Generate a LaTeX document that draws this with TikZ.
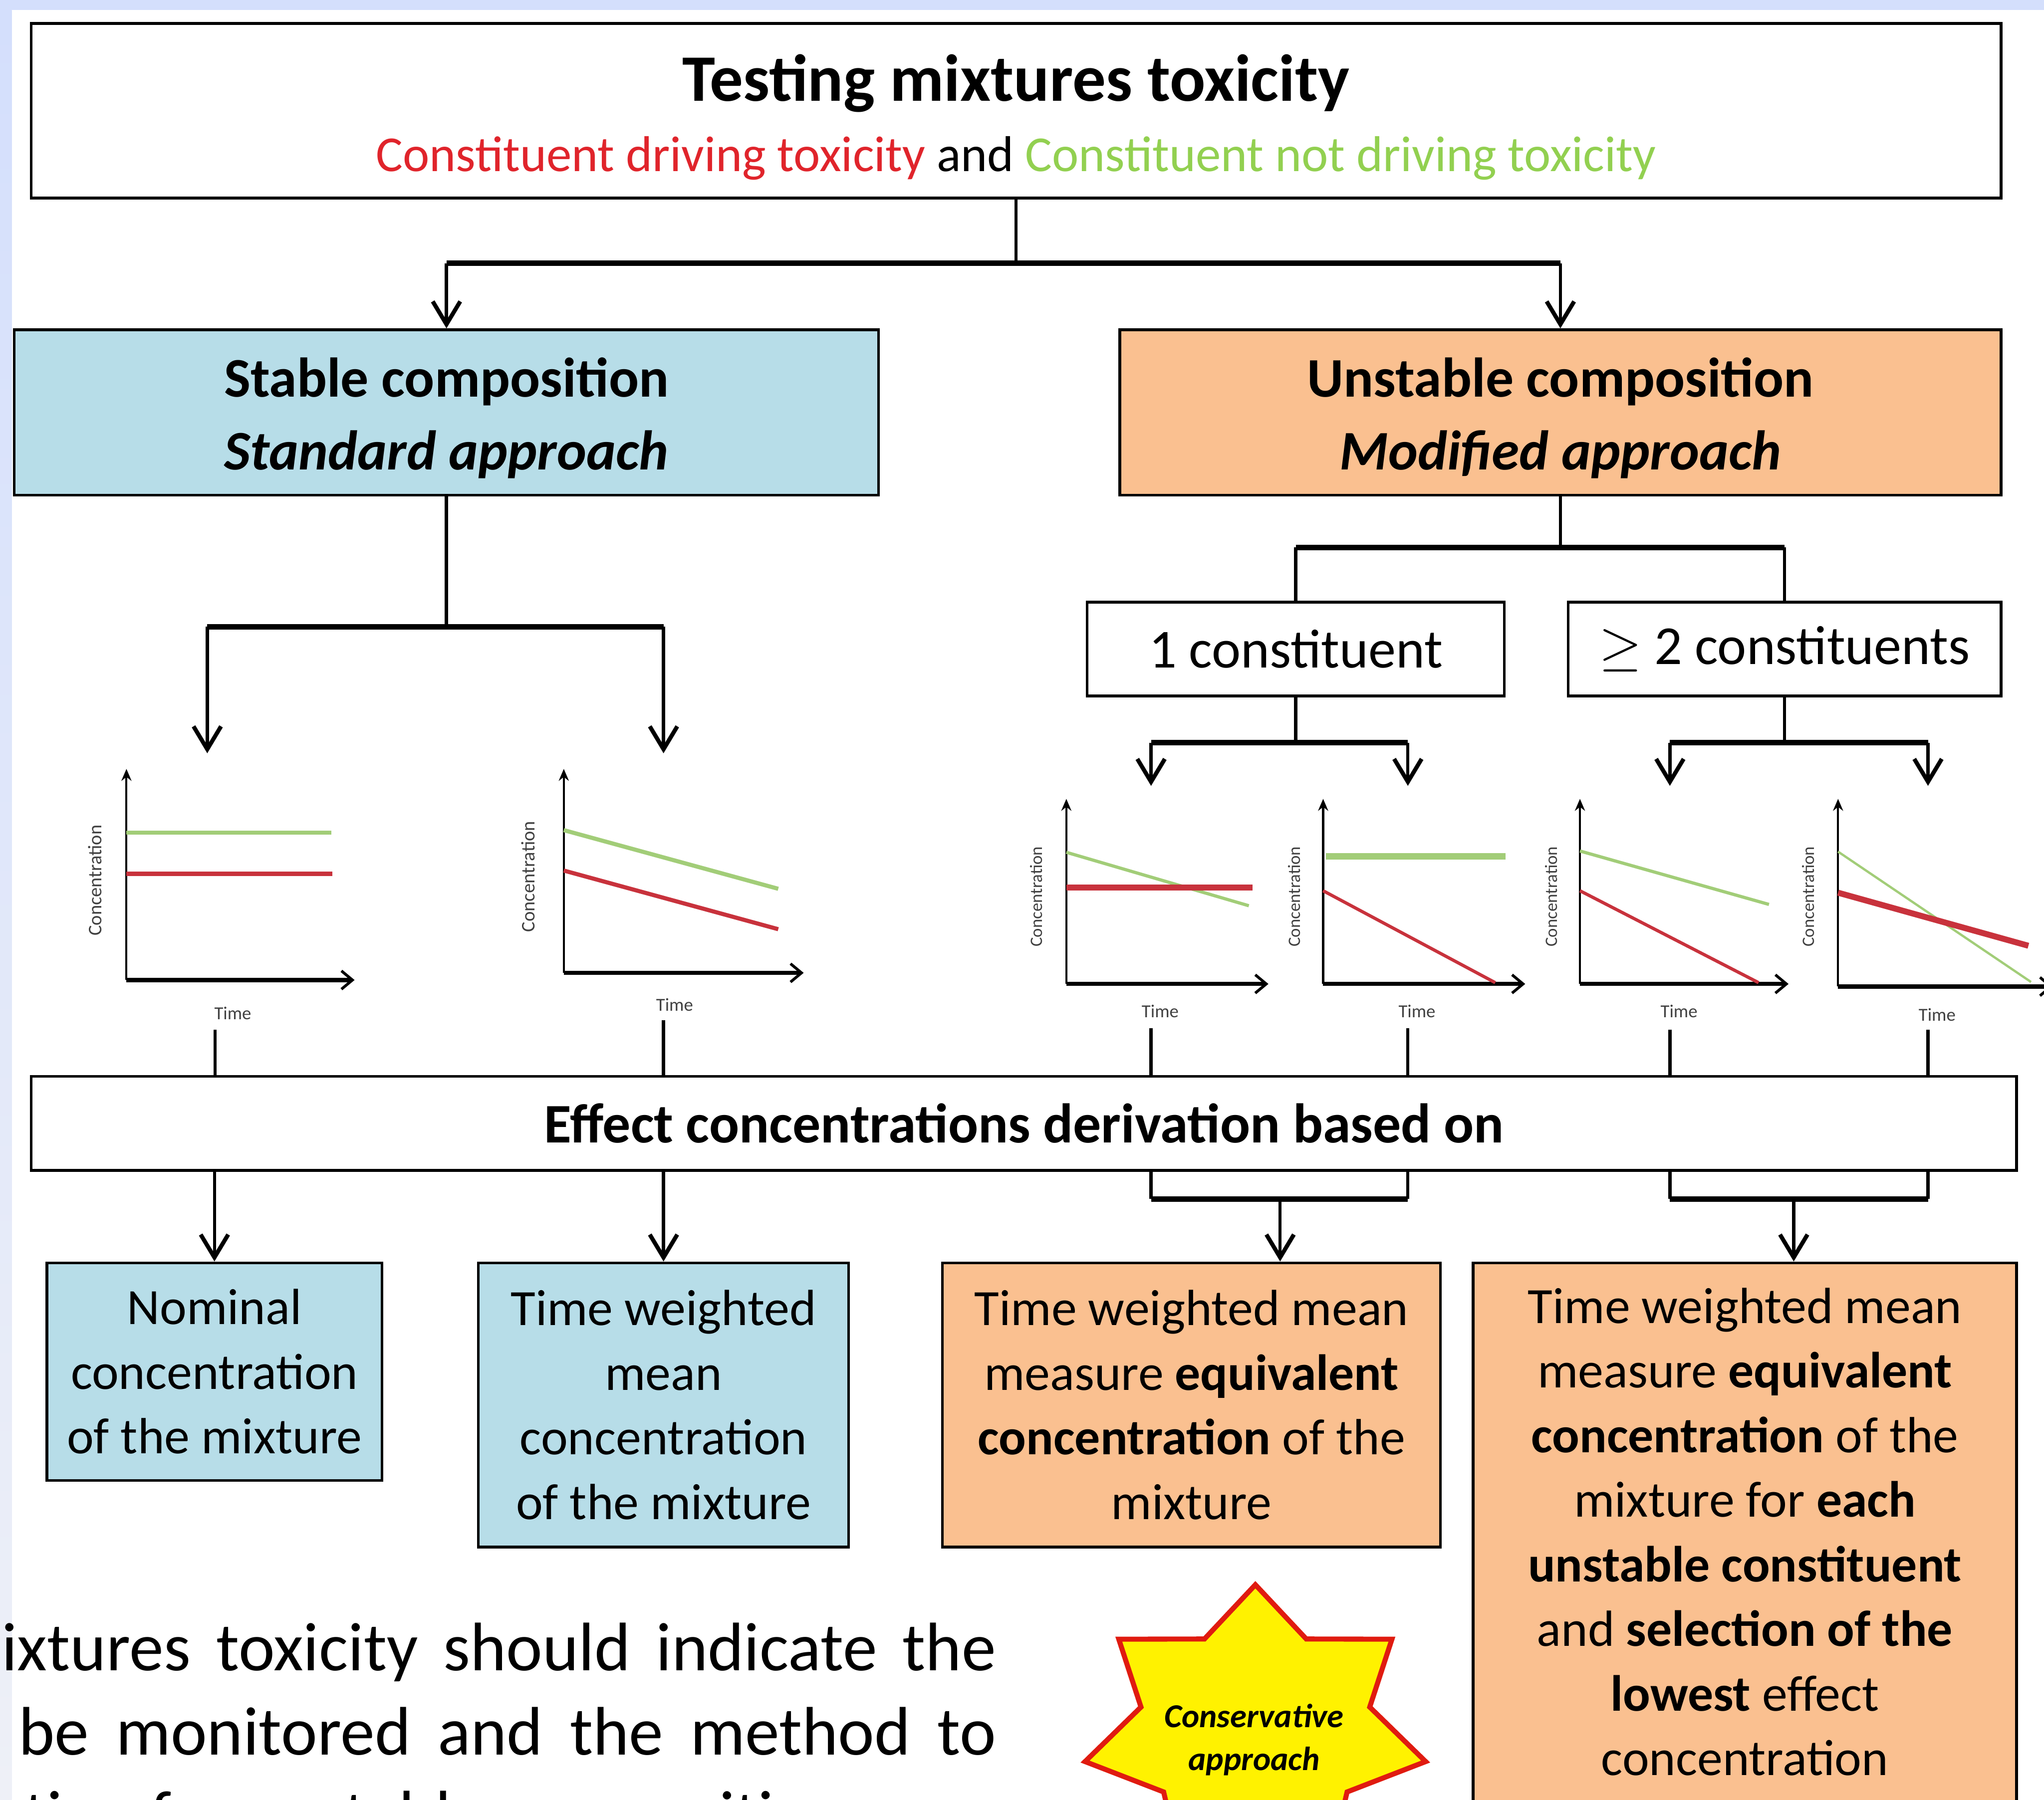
\documentclass[tikz,border=0pt]{standalone}
\usepackage{fontspec}
\setmainfont{Carlito}
\usetikzlibrary{arrows.meta}

\definecolor{stableblue}{HTML}{B7DDE8}
\definecolor{unstableorange}{HTML}{FAC090}
\definecolor{toxred}{HTML}{E0242B}
\definecolor{toxgreen}{HTML}{92D050}
\definecolor{plotred}{HTML}{C8323C}
\definecolor{plotgreen}{HTML}{A2CD78}
\definecolor{slideband}{HTML}{D4DFFC}
\definecolor{slidegrey}{HTML}{EEF0F7}
\definecolor{starred}{HTML}{E01B10}

\begin{document}
\begin{tikzpicture}[
    >={Straight Barb[length=5pt,width=6pt,line width=0.9pt]},
    box/.style={draw=black, line width=0.6pt, inner sep=0pt, align=center},
    link/.style={line width=0.7pt},
    bus/.style={line width=1.2pt},
    yaxis/.style={line width=0.45pt, -{Stealth[length=2.6pt,width=2.2pt]}},
    xaxis/.style={line width=0.9pt, -{Straight Barb[length=2.4pt,width=4pt,line width=0.6pt]}},
    greenline/.style={plotgreen, line width=0.9pt},
    redline/.style={plotred, line width=0.9pt},
    conc/.style={rotate=90, inner sep=0pt, text=black!75, font=\fontsize{4.2}{5}\selectfont},
    timelbl/.style={inner sep=0pt, text=black!75, font=\fontsize{4}{5}\selectfont},
    bottomtext/.style={font=\fontsize{11.1}{14.1}\selectfont},
    slidetext/.style={inner sep=0pt, anchor=base east, font=\fontsize{15}{18}\selectfont}
]

    % Page
    \useasboundingbox (0,0) rectangle (15.68,-13.81);
    \clip (0,0) rectangle (15.68,-13.81);
    \fill[white] (0,0) rectangle (15.68,-13.81);
    \fill[slideband] (0,0) rectangle (15.68,-0.078);
    \shade[top color=slideband, bottom color=slidegrey] (0,-0.078) rectangle (0.09,-13.81);

    % Slide text behind the chart
    \node[slidetext] (para1) at (7.65,-12.82) {\makebox[7.63cm][s]{ixtures toxicity should indicate the}};
    \node[slidetext] (para2) at (7.65,-13.465) {\makebox[7.50cm][s]{be monitored and the method to}};
    \node[slidetext, anchor=base west] (para3) at (0.18,-14.11) {tion for unstable composition};

    % Title
    \node[box, minimum width=15.11cm, minimum height=1.34cm,
          font=\fontsize{11}{15.3}\selectfont] (title) at (7.795,-0.85)
        {\rule{0pt}{13pt}{\fontsize{14.5}{15.3}\selectfont\bfseries Testing mixtures toxicity}\\
         \textcolor{toxred}{Constituent driving toxicity} and \textcolor{toxgreen}{Constituent not driving toxicity}};

    % Composition
    \node[box, fill=stableblue, minimum width=6.63cm, minimum height=1.27cm,
          font=\bfseries\fontsize{12.2}{15.9}\selectfont] (stable) at (3.425,-3.165)
        {\rule{0pt}{11pt}Stable composition\\\textit{Standard approach}};
    \node[box, fill=unstableorange, minimum width=6.76cm, minimum height=1.27cm,
          font=\bfseries\fontsize{12.2}{15.9}\selectfont] (unstable) at (11.97,-3.165)
        {\rule{0pt}{11pt}Unstable composition\\\textit{Modified approach}};

    \coordinate (split) at (7.795,-2.02);
    \draw[link] (title.south) -- (split);
    \draw[bus] (stable.north |- split) -- (unstable.north |- split);
    \draw[link,->] (stable.north |- split) -- (stable.north);
    \draw[link,->] (unstable.north |- split) -- (unstable.north);

    % Stable branches
    \coordinate (sfork) at (3.425,-4.81);
    \coordinate (g1in) at (1.59,-5.78);
    \coordinate (g2in) at (5.09,-5.78);
    \draw[link] (stable.south) -- (sfork);
    \draw[bus] (g1in |- sfork) -- (g2in |- sfork);
    \draw[link,->] (g1in |- sfork) -- (g1in);
    \draw[link,->] (g2in |- sfork) -- (g2in);

    % Unstable branches
    \node[box, minimum width=3.20cm, minimum height=0.72cm,
          font=\fontsize{12}{14}\selectfont] (one) at (9.94,-4.98) {1 constituent};
    \node[box, minimum width=3.32cm, minimum height=0.72cm,
          font=\fontsize{12}{14}\selectfont] (two) at (13.69,-4.98) {$\geq$ 2 constituents};
    \coordinate (ufork) at (11.97,-4.20);
    \draw[link] (unstable.south) -- (ufork);
    \draw[bus] (one.north |- ufork) -- (two.north |- ufork);
    \draw[link] (one.north |- ufork) -- (one.north);
    \draw[link] (two.north |- ufork) -- (two.north);

    \coordinate (ofork) at (9.94,-5.70);
    \coordinate (tfork) at (13.69,-5.70);
    \coordinate (g3in) at (8.83,-6.03);
    \coordinate (g4in) at (10.80,-6.03);
    \coordinate (g5in) at (12.81,-6.03);
    \coordinate (g6in) at (14.79,-6.03);
    \draw[link] (one.south) -- (ofork);
    \draw[link] (two.south) -- (tfork);
    \draw[bus] (g3in |- ofork) -- (g4in |- ofork);
    \draw[bus] (g5in |- tfork) -- (g6in |- tfork);
    \draw[link,->] (g3in |- ofork) -- (g3in);
    \draw[link,->] (g4in |- ofork) -- (g4in);
    \draw[link,->] (g5in |- tfork) -- (g5in);
    \draw[link,->] (g6in |- tfork) -- (g6in);

    % Graph 1
    \draw[yaxis] (0.97,-7.52) -- (0.97,-5.90);
    \draw[xaxis] (0.97,-7.52) -- (2.72,-7.52);
    \draw[greenline] (0.97,-6.39) -- (2.54,-6.39);
    \draw[redline] (0.97,-6.705) -- (2.55,-6.705);
    \node[conc] (c1) at (0.73,-6.755) {Concentration};
    \node[timelbl] (t1) at (1.786,-7.775) {Time};

    % Graph 2
    \draw[yaxis] (4.325,-7.465) -- (4.325,-5.90);
    \draw[xaxis] (4.325,-7.465) -- (6.165,-7.465);
    \draw[greenline] (4.325,-6.37) -- (5.97,-6.82);
    \draw[redline] (4.325,-6.68) -- (5.97,-7.13);
    \node[conc] (c2) at (4.05,-6.726) {Concentration};
    \node[timelbl] (t2) at (5.175,-7.708) {Time};

    % Graph 3
    \draw[yaxis] (8.18,-7.55) -- (8.18,-6.13);
    \draw[xaxis] (8.18,-7.55) -- (9.73,-7.55);
    \draw[greenline, line width=0.7pt] (8.18,-6.54) -- (9.58,-6.95);
    \draw[redline, line width=1.4pt] (8.18,-6.81) -- (9.61,-6.81);
    \node[conc, font=\fontsize{3.8}{4.5}\selectfont] (c3) at (7.95,-6.88) {Concentration};
    \node[timelbl] (t3) at (8.90,-7.76) {Time};

    % Graph 4
    \draw[yaxis] (10.15,-7.55) -- (10.15,-6.13);
    \draw[xaxis] (10.15,-7.55) -- (11.70,-7.55);
    \draw[greenline, line width=1.4pt] (10.17,-6.57) -- (11.55,-6.57);
    \draw[redline, line width=0.7pt] (10.15,-6.835) -- (11.47,-7.54);
    \node[conc, font=\fontsize{3.8}{4.5}\selectfont] (c4) at (9.93,-6.88) {Concentration};
    \node[timelbl] (t4) at (10.87,-7.76) {Time};

    % Graph 5
    \draw[yaxis] (12.12,-7.55) -- (12.12,-6.13);
    \draw[xaxis] (12.12,-7.55) -- (13.72,-7.55);
    \draw[greenline, line width=0.7pt] (12.12,-6.53) -- (13.57,-6.94);
    \draw[redline, line width=0.7pt] (12.12,-6.835) -- (13.49,-7.54);
    \node[conc, font=\fontsize{3.8}{4.5}\selectfont] (c5) at (11.90,-6.88) {Concentration};
    \node[timelbl] (t5) at (12.88,-7.76) {Time};

    % Graph 6
    \draw[yaxis] (14.10,-7.57) -- (14.10,-6.13);
    \draw[xaxis] (14.10,-7.57) -- (15.75,-7.57);
    \draw[greenline, line width=0.5pt] (14.10,-6.535) -- (15.58,-7.535);
    \draw[redline, line width=1.3pt] (14.10,-6.85) -- (15.56,-7.257);
    \node[conc, font=\fontsize{3.8}{4.5}\selectfont] (c6) at (13.87,-6.88) {Concentration};
    \node[timelbl] (t6) at (14.86,-7.785) {Time};

    % Effect concentrations
    \node[box, minimum width=15.23cm, minimum height=0.72cm,
          font=\bfseries\fontsize{12.2}{14}\selectfont] (effect) at (7.855,-8.62)
        {Effect concentrations derivation based on};

    \coordinate (d1) at (1.65,-7.90);
    \coordinate (d2) at (5.09,-7.83);
    \coordinate (d3) at (8.83,-7.89);
    \coordinate (d4) at (10.80,-7.89);
    \coordinate (d5) at (12.81,-7.90);
    \coordinate (d6) at (14.79,-7.90);
    \foreach \d in {d1,d2,d3,d4,d5,d6}
        \draw[link] (\d) -- (\d |- effect.north);

    % Results
    \node[box, fill=stableblue, minimum width=2.57cm, minimum height=1.67cm, bottomtext] (nominal)
        at (1.645,-10.525) {Nominal\\concentration\\of the mixture};
    \node[box, fill=stableblue, minimum width=2.84cm, minimum height=2.18cm, bottomtext] (twm)
        at (5.09,-10.78) {Time weighted\\mean\\concentration\\of the mixture};
    \node[box, fill=unstableorange, minimum width=3.82cm, minimum height=2.18cm, bottomtext] (eqone)
        at (9.14,-10.78) {Time weighted mean\\measure \textbf{equivalent}\\\textbf{concentration} of the\\mixture};
    \node[box, fill=unstableorange, minimum width=4.17cm, minimum height=4.21cm, bottomtext] (eqtwo)
        at (13.385,-11.795) {Time weighted mean\\measure \textbf{equivalent}\\\textbf{concentration} of the\\mixture for \textbf{each}\\\textbf{unstable constituent}\\and \textbf{selection of the}\\\textbf{lowest} effect\\concentration\rule[-2.4pt]{0pt}{0pt}};

    \draw[link,->] (nominal.north |- effect.south) -- (nominal.north);
    \draw[link,->] (twm.north |- effect.south) -- (twm.north);

    \coordinate (efork1) at (9.82,-9.20);
    \coordinate (efork2) at (13.76,-9.20);
    \draw[link] (d3 |- effect.south) -- (d3 |- efork1);
    \draw[link] (d4 |- effect.south) -- (d4 |- efork1);
    \draw[link] (d5 |- effect.south) -- (d5 |- efork2);
    \draw[link] (d6 |- effect.south) -- (d6 |- efork2);
    \draw[bus] (d3 |- efork1) -- (d4 |- efork1);
    \draw[bus] (d5 |- efork2) -- (d6 |- efork2);
    \draw[link,->] (efork1) -- (efork1 |- eqone.north);
    \draw[link,->] (efork2) -- (efork2 |- eqtwo.north);

    % Conservative approach
    \draw[starred, fill=yellow, line width=1.1pt, line join=miter]
        plot[samples at={0,...,13}, variable=\k]
        ({9.63 + ((mod(\k,2)==0) ? 1.34 : 0.90)*cos(90+\k*180/7)},
         {-13.27 + ((mod(\k,2)==0) ? 1.11 : 0.77)*sin(90+\k*180/7)}) -- cycle;
    \node[align=center, inner sep=0pt, font=\bfseries\itshape\fontsize{7.3}{9.4}\selectfont] (cons)
        at (9.62,-13.35) {Conservative\\approach};

\end{tikzpicture}
\end{document}
